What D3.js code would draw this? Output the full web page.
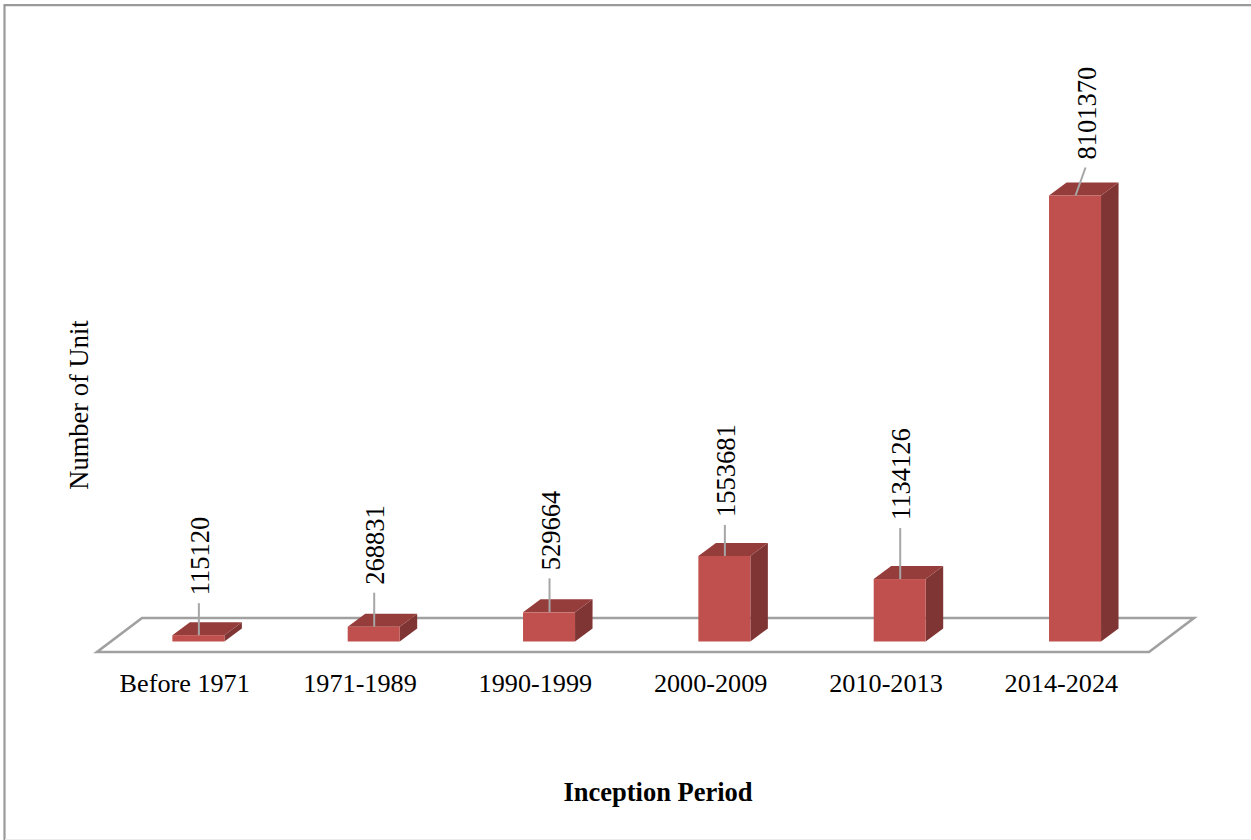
<!DOCTYPE html>
<meta charset="utf-8">
<style>
body { margin: 0; background: #fff; }
text { font-family: "Liberation Serif", serif; fill: #000; }
</style>
<body>
<svg width="1251" height="840"></svg>
</body>
<script src="https://d3js.org/d3.v7.min.js"></script>
<script>

// values
var periods = ["Before 1971", "1971-1989", "1990-1999", "2000-2009", "2010-2013", "2014-2024"];
var units = [115120, 268831, 529664, 1553681, 1134126, 8101370];

// how far each leader line climbs above its bar, and how far it leans
var leaderRise = [32, 34, 34, 31, 51, 28];
var leaderLean = [0, 0, 0, 0, 0, 10];

var svg = d3.select("svg");

var floorFront = 652, floorBack = 618, floorLeft = 97, floorRight = 1149, floorSkew = 45;
var barBase = 641.5, barWidth = 52;
var depthX = 17.5, depthY = 13;
var barShift = 13.7; // bars stand part way back on the floor
var fontSize = 26.5;

var x = d3.scaleBand().domain(periods).range([floorLeft, floorRight]);
var y = d3.scaleLinear().domain([0, d3.max(units)]).range([barBase, 195.5]);

// outer frame, only top and left show, the bottom is a faint trace
svg.append("path")
    .attr("d", "M4.5,840V5.2H1251")
    .attr("fill", "none")
    .attr("stroke", "#9a9a9a")
    .attr("stroke-width", 2.2);
svg.append("path")
    .attr("d", "M5,839.5H1251")
    .attr("stroke", "#ececec")
    .attr("stroke-width", 1);

// floor
var floorPts = [[floorLeft, floorFront], [floorRight, floorFront],
                [floorRight + floorSkew, floorBack], [floorLeft + floorSkew, floorBack]];
svg.append("polygon")
    .attr("points", floorPts.join(" "))
    .attr("fill", "#fff")
    .attr("stroke", "#a0a0a0")
    .attr("stroke-width", 2.6);

var data = periods.map((p, i) => ({ period: p, value: units[i], rise: leaderRise[i], lean: leaderLean[i] }));

function left(d) { return x(d.period) + x.bandwidth() / 2 + barShift - barWidth / 2; }
function mid(d) { return left(d) + barWidth / 2; }

var bar = svg.append("g").attr("class", "bars")
  .selectAll("g")
  .data(data)
  .enter().append("g");

// right side
bar.append("polygon")
    .attr("fill", "#7f3533")
    .attr("points", d => {
      var r = left(d) + barWidth, t = y(d.value);
      return [[r, t], [r + depthX, t - depthY], [r + depthX, barBase - depthY], [r, barBase]].join(" ");
    });

// top
bar.append("polygon")
    .attr("fill", "#953d3b")
    .attr("points", d => {
      var l = left(d), t = y(d.value);
      return [[l, t], [l + depthX, t - depthY], [l + barWidth + depthX, t - depthY], [l + barWidth, t]].join(" ");
    });

// front
bar.append("rect")
    .attr("fill", "#c0504d")
    .attr("x", left)
    .attr("y", d => y(d.value))
    .attr("width", barWidth)
    .attr("height", d => barBase - y(d.value));

// leader lines
bar.append("line")
    .attr("x1", d => mid(d) + 0.5)
    .attr("y1", d => y(d.value))
    .attr("x2", d => mid(d) + 0.5 + d.lean)
    .attr("y2", d => y(d.value) - d.rise)
    .attr("stroke", "#a6a6a6")
    .attr("stroke-width", 2);

// value labels
bar.append("text")
    .attr("transform", d => `translate(${mid(d) + d.lean + 1.5},${y(d.value) - d.rise - 8}) rotate(-90)`)
    .attr("dy", "0.34em")
    .attr("font-size", fontSize)
    .text(d => d.value);

// category axis
var axis = svg.append("g")
    .attr("transform", `translate(0,${floorFront})`)
    .call(d3.axisBottom(x).tickSize(0).tickPadding(21));
axis.select(".domain").remove();
axis.selectAll("text")
    .attr("font-size", 26.2)
    .attr("font-family", '"Liberation Serif", serif')
    .attr("fill", "#000");

svg.append("text")
    .attr("x", 658).attr("y", 801)
    .attr("text-anchor", "middle")
    .attr("font-size", fontSize)
    .attr("font-weight", "bold")
    .text("Inception Period");

svg.append("text")
    .attr("transform", "translate(88,405) rotate(-90)")
    .attr("text-anchor", "middle")
    .attr("font-size", fontSize)
    .text("Number of Unit");

</script>
